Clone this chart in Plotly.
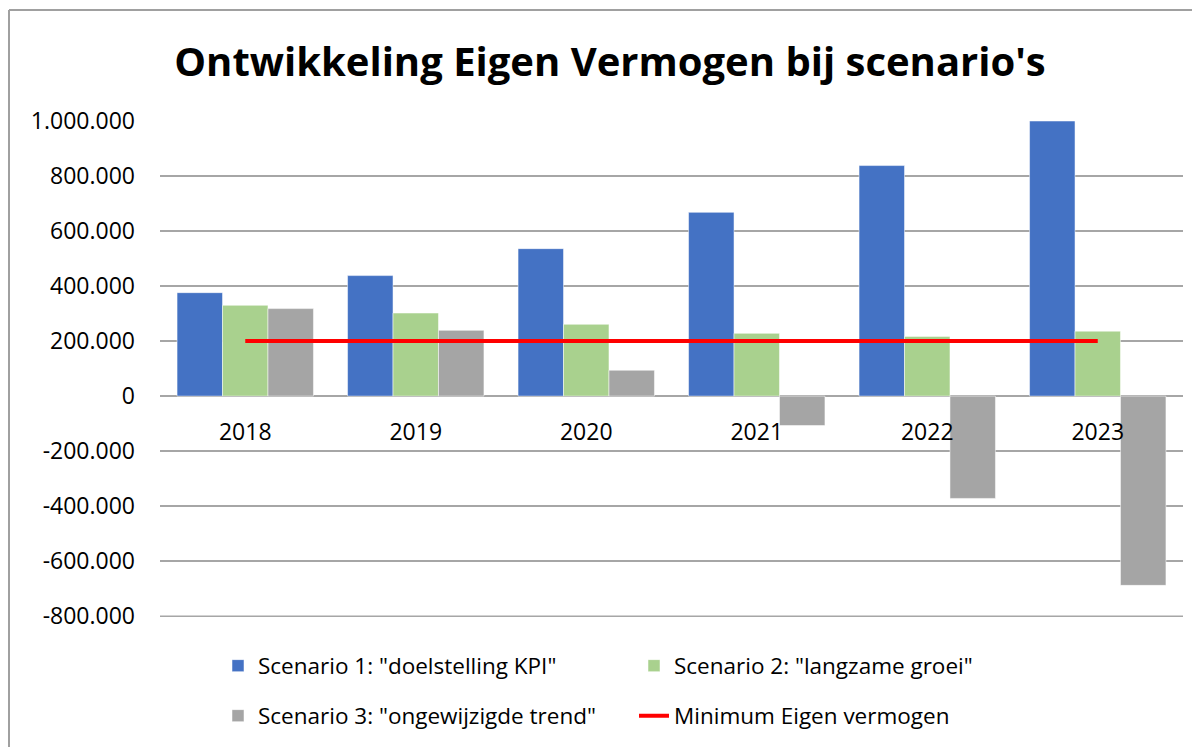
import plotly.graph_objects as go

years = ["2018", "2019", "2020", "2021", "2022", "2023"]
scenario1 = [376000, 438000, 536000, 668000, 838000, 1000000]
scenario2 = [330000, 302000, 261000, 228000, 217000, 236000]
scenario3 = [318000, 239000, 94000, -107000, -372000, -688000]
minimum_ev = [200000, 200000, 200000, 200000, 200000, 200000]

names = ['Scenario 1: "doelstelling KPI"', 'Scenario 2: "langzame groei"',
         'Scenario 3: "ongewijzigde trend"', 'Minimum Eigen vermogen']
tick_vals = [-800000, -600000, -400000, -200000, 0, 200000, 400000, 600000, 800000, 1000000]
tick_labels = ["-800.000", "-600.000", "-400.000", "-200.000", "0", "200.000",
               "400.000", "600.000", "800.000", "1.000.000"]
title_text = "Ontwikkeling Eigen Vermogen bij scenario's"
y_range = [-803000, 1000000]

FONT = "Open Sans"
OFF = 8  # default page body margin
W, H = 1200 - OFF, 747 - OFF
PL, PR, PT, PB = 160, 1183, 121, 617   # plot area in window pixels
L, R, T, B = PL - OFF, W - (PR - OFF), PT - OFF, H - (PB - OFF)
pw, ph = PR - PL, PB - PT
GRID = "#A6A6A6"

def px_x(x):
    return (x - PL) / pw

def px_y(y):
    return (PB - y) / ph

fig = go.Figure()
edge = dict(width=1, color="rgba(255,255,255,0.5)")
fig.add_trace(go.Bar(x=years, y=scenario1, name=names[0], marker_color="#4472C4",
                     marker_line=edge, legend="legend"))
fig.add_trace(go.Bar(x=years, y=scenario2, name=names[1], marker_color="#A9D18E",
                     marker_line=edge, legend="legend"))
fig.add_trace(go.Bar(x=years, y=scenario3, name=names[2], marker_color="#A5A5A5",
                     marker_line=edge, legend="legend2"))
fig.add_trace(go.Scatter(x=years, y=minimum_ev, name=names[3], mode="lines",
                         line=dict(color="#FF0000", width=4), legend="legend2"))

# lowest gridline (plotly hides the one at the range edge)
fig.add_shape(type="line", xref="paper", yref="y", x0=0, x1=1,
              y0=tick_vals[0], y1=tick_vals[0], layer="below",
              line=dict(color=GRID, width=1.5))

border = "#A0A0A0"
fig.add_shape(type="line", xref="paper", yref="paper",
              x0=px_x(9), x1=px_x(1210), y0=px_y(10), y1=px_y(10),
              line=dict(color=border, width=2))
fig.add_shape(type="line", xref="paper", yref="paper",
              x0=px_x(9), x1=px_x(9), y0=px_y(10), y1=px_y(760),
              line=dict(color=border, width=2))

legend_common = dict(orientation="h", xanchor="left", yanchor="middle",
                     entrywidth=371, entrywidthmode="pixels",
                     font=dict(family=FONT, size=22.5, color="#000000"),
                     bgcolor="rgba(0,0,0,0)", traceorder="normal")

zero_pos = (0 - y_range[0]) / (y_range[1] - y_range[0])

fig.update_layout(
    width=W, height=H,
    margin=dict(l=L, r=R, t=T, b=B, autoexpand=False),
    paper_bgcolor="white", plot_bgcolor="white",
    barmode="group", bargap=0.2, bargroupgap=0,
    title=dict(text="<b>" + title_text + "</b>", x=(610 - OFF) / W, xanchor="center",
               xref="container", yref="container", y=1 - (62 - OFF) / H, yanchor="middle",
               font=dict(family=FONT, size=40, color="#000000")),
    xaxis=dict(type="category", categoryorder="array", categoryarray=years,
               anchor="free", position=zero_pos,
               showticklabels=True, showgrid=False, zeroline=False,
               showline=False, ticks="", ticklabelstandoff=20,
               tickfont=dict(family=FONT, size=23, color="#000000")),
    yaxis=dict(range=y_range, tickvals=tick_vals, ticktext=tick_labels,
               showgrid=True, gridcolor=GRID, gridwidth=1.5,
               zeroline=True, zerolinecolor=GRID, zerolinewidth=1.5,
               ticks="", ticklabelstandoff=24,
               tickfont=dict(family=FONT, size=23, color="#000000")),
    showlegend=True,
    legend=dict(x=px_x(218), y=px_y(666), **legend_common),
    legend2=dict(x=px_x(218), y=px_y(716), **legend_common),
)

fig.write_html("out.html")
